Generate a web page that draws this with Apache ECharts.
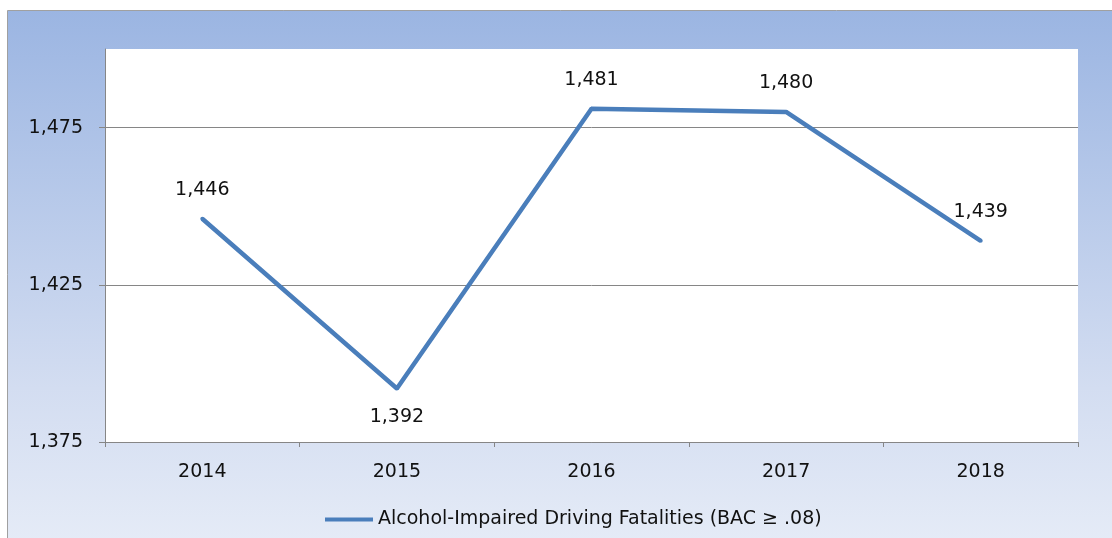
<!DOCTYPE html>
<html>
<head>
<meta charset="utf-8">
<script src="https://cdn.jsdelivr.net/npm/echarts@6/dist/echarts.min.js"></script>
<style>
  html, body { margin: 0; padding: 0; background: #fff; }
  #chart { width: 1112px; height: 538px; }
</style>
</head>
<body>
<div id="chart"></div>
<script>
// data
var years = ['2014', '2015', '2016', '2017', '2018'];
var fatalities = [1446, 1392, 1481, 1480, 1439];
var seriesName = 'Alcohol-Impaired Driving Fatalities (BAC \u2265 .08)';
var yMin = 1375, yMax = 1500, yStep = 50;

var fontName = 'DejaVu Sans';
var fontSize = 19;
var lineColor = '#4a7ebb';

function fmt(v) {
  return String(v).replace(/\B(?=(\d{3})+(?!\d))/g, ',');
}

var chart = echarts.init(document.getElementById('chart'), null, { renderer: 'canvas' });

chart.setOption({
  animation: false,
  textStyle: { fontFamily: fontName },
  graphic: [{
    type: 'rect',
    z: -10,
    shape: { x: 7.5, y: 10.5, width: 1120, height: 540 },
    style: {
      fill: new echarts.graphic.LinearGradient(0, 0, 0, 1, [
        { offset: 0, color: '#9bb5e2' },
        { offset: 0.7, color: '#d3ddf1' },
        { offset: 1, color: '#e6ecf7' }
      ]),
      stroke: '#a0a0a0',
      lineWidth: 1
    }
  }],
  grid: {
    left: 105, right: 34, top: 49, bottom: 96,
    show: true,
    backgroundColor: '#ffffff',
    borderWidth: 0
  },
  legend: {
    bottom: 4,
    left: 320,
    itemWidth: 48,
    itemHeight: 4,
    icon: 'rect',
    itemGap: 3,
    itemStyle: { color: lineColor },
    textStyle: { fontFamily: fontName, fontSize: fontSize, color: '#111' },
    data: [seriesName]
  },
  xAxis: {
    type: 'category',
    data: years,
    boundaryGap: true,
    axisLine: { show: true, lineStyle: { color: '#868686', width: 1 } },
    axisTick: { show: true, length: 5, lineStyle: { color: '#868686' } },
    axisLabel: { fontFamily: fontName, fontSize: fontSize, color: '#111', margin: 21 },
    splitLine: { show: false }
  },
  yAxis: {
    type: 'value',
    min: yMin,
    max: yMax,
    interval: yStep,
    axisLine: { show: true, lineStyle: { color: '#868686', width: 1 } },
    axisTick: { show: true, length: 6, lineStyle: { color: '#868686' } },
    axisLabel: {
      fontFamily: fontName, fontSize: fontSize, color: '#111', margin: 22,
      showMaxLabel: false,
      formatter: function (v) { return fmt(v); }
    },
    splitLine: {
      show: true,
      showMaxLine: false,
      lineStyle: { color: '#868686', width: 1 }
    }
  },
  series: [{
    name: seriesName,
    type: 'line',
    data: fatalities.map(function (v) {
      return {
        value: v,
        label: { position: v === Math.min.apply(null, fatalities) ? 'bottom' : 'top' }
      };
    }),
    symbol: 'circle',
    symbolSize: 4,
    showSymbol: true,
    lineStyle: { color: lineColor, width: 4.5 },
    itemStyle: { color: lineColor },
    label: {
      show: true,
      distance: 17,
      fontFamily: fontName,
      fontSize: fontSize,
      color: '#111',
      formatter: function (p) { return fmt(p.value); }
    }
  }]
});
</script>
</body>
</html>
